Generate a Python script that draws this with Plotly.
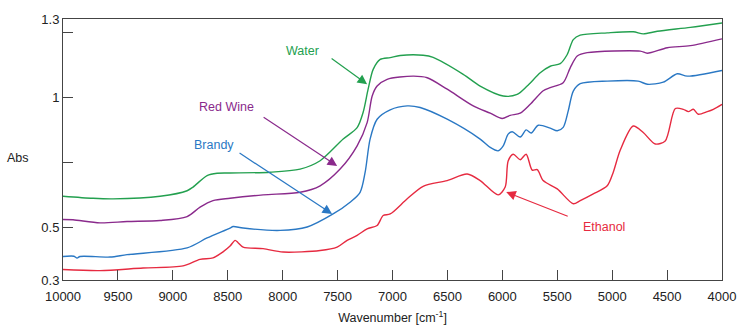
import plotly.graph_objects as go

# ---- data (wavenumber in cm^-1, absorbance) ----
water_wn = [10000, 9727, 9545, 9116, 8870, 8816, 8688, 8597, 8479, 8114, 7841, 7659, 7449, 7322, 7267, 7222,
            7176, 7112, 7021, 6930, 6721, 6630, 6356, 6202, 5992, 5865, 5774, 5655, 5564, 5473, 5409, 5354,
            5291, 5045, 4808, 4717, 4589, 4288, 4000]
water_abs = [0.621, 0.613, 0.611, 0.621, 0.642, 0.656, 0.700, 0.709, 0.710, 0.713, 0.725, 0.757, 0.840, 0.884,
             0.943, 1.031, 1.107, 1.145, 1.152, 1.160, 1.161, 1.153, 1.088, 1.043, 1.005, 1.011, 1.043, 1.094,
             1.119, 1.129, 1.164, 1.221, 1.238, 1.247, 1.251, 1.243, 1.253, 1.268, 1.285]

wine_wn = [10000, 9909, 9663, 9417, 9116, 8870, 8752, 8634, 8479, 8178, 7841, 7659, 7477, 7322, 7231, 7185,
           7140, 7049, 6812, 6684, 6502, 6265, 6110, 6001, 5928, 5837, 5746, 5628, 5564, 5446, 5382, 5318,
           5227, 4744, 4680, 4498, 4288, 4000]
wine_abs = [0.532, 0.531, 0.519, 0.524, 0.528, 0.543, 0.579, 0.604, 0.613, 0.626, 0.636, 0.661, 0.725, 0.814,
            0.903, 1.005, 1.043, 1.069, 1.081, 1.075, 1.031, 0.967, 0.939, 0.919, 0.931, 0.939, 0.973, 1.025,
            1.037, 1.056, 1.113, 1.158, 1.171, 1.177, 1.169, 1.190, 1.198, 1.224]

brandy_wn = [10000, 9900, 9872, 9845, 9572, 9417, 8870, 8688, 8479, 8451, 8360, 8023, 7777, 7541, 7386, 7295,
             7249, 7204, 7140, 7021, 6866, 6748, 6502, 6202, 6110, 6038, 5992, 5947, 5910, 5837, 5783, 5737,
             5673, 5564, 5500, 5446, 5400, 5354, 5291, 5045, 4763, 4680, 4535, 4407, 4316, 4000]
brandy_abs = [0.390, 0.391, 0.384, 0.390, 0.388, 0.397, 0.423, 0.461, 0.499, 0.505, 0.499, 0.490, 0.503, 0.553,
              0.598, 0.636, 0.713, 0.840, 0.916, 0.952, 0.967, 0.961, 0.916, 0.840, 0.808, 0.795, 0.814, 0.859,
              0.868, 0.848, 0.875, 0.863, 0.893, 0.882, 0.872, 0.885, 0.948, 1.024, 1.052, 1.062, 1.062, 1.050,
              1.058, 1.090, 1.081, 1.103]

ethanol_wn = [10000, 9663, 9271, 8907, 8752, 8634, 8543, 8479, 8433, 8406, 8360, 8178, 7996, 7659, 7504, 7413,
              7322, 7231, 7140, 7085, 7021, 6866, 6721, 6502, 6320, 6202, 6038, 5974, 5947, 5901, 5837, 5783,
              5728, 5682, 5628, 5500, 5354, 5291, 5172, 5045, 4990, 4926, 4808, 4717, 4608, 4517, 4425, 4352,
              4306, 4261, 4216, 4134, 4079, 4000]
ethanol_abs = [0.340, 0.336, 0.346, 0.354, 0.379, 0.385, 0.408, 0.430, 0.452, 0.443, 0.426, 0.420, 0.407, 0.413,
               0.426, 0.452, 0.471, 0.496, 0.509, 0.547, 0.553, 0.611, 0.659, 0.681, 0.706, 0.681, 0.626, 0.656,
               0.756, 0.782, 0.761, 0.782, 0.721, 0.723, 0.681, 0.649, 0.592, 0.604, 0.630, 0.661, 0.713, 0.798,
               0.890, 0.865, 0.821, 0.833, 0.957, 0.954, 0.945, 0.954, 0.935, 0.945, 0.954, 0.973]

x_tickvals = [10000, 9500, 9000, 8500, 8000, 7500, 7000, 6500, 6000, 5500, 5000, 4500, 4000]
y_tickvals = [0.3, 0.5, 0.75, 1, 1.25, 1.3]
y_ticktext = ["0.3", "0.5", "", "1", "", "1.3"]

# label name, text position (wn, abs), arrow tail (wn, abs), arrow head (wn, abs), colour
labels = [
    ("Water", (7823, 1.179), (7568, 1.153), (7231, 1.050), "#23a04f"),
    ("Red Wine", (8515, 0.962), (8187, 0.927), (7504, 0.737), "#8a2a8c"),
    ("Brandy", (8625, 0.817), (8406, 0.790), (7550, 0.553), "#2a78c4"),
    ("Ethanol", (5072, 0.504), (5391, 0.542), (5965, 0.637), "#e62a40"),
]

series = [
    (water_wn, water_abs, "#23a04f"),
    (wine_wn, wine_abs, "#8a2a8c"),
    (brandy_wn, brandy_abs, "#2a78c4"),
    (ethanol_wn, ethanol_abs, "#e62a40"),
]

fig = go.Figure()
for xs, ys, col in series:
    fig.add_trace(go.Scatter(x=xs, y=ys, mode="lines",
                             line=dict(color=col, width=1.4, shape="spline", smoothing=0.8),
                             showlegend=False, hoverinfo="skip"))

for name, tpos, tail, head, col in labels:
    fig.add_annotation(x=tpos[0], y=tpos[1], text=name, showarrow=False,
                       font=dict(color=col, size=12.5, family="Liberation Sans, Arial"))
    fig.add_annotation(x=head[0], y=head[1], ax=tail[0], ay=tail[1], axref="x", ayref="y",
                       text="", showarrow=True, arrowhead=2, arrowsize=1.6, arrowwidth=1.2,
                       arrowcolor=col)

fig.add_annotation(xref="paper", yref="paper", x=-0.088, y=0.466, xanchor="left", yanchor="middle",
                   text="Abs", showarrow=False, font=dict(size=12.5, color="#222"))

axis_common = dict(showline=True, linecolor="#444", linewidth=1, mirror=True, ticks="inside",
                   ticklen=10, tickcolor="#444", tickwidth=1, showgrid=False, zeroline=False,
                   tickfont=dict(size=13, color="#222"))

fig.update_xaxes(range=[10000, 4000], tickvals=x_tickvals, ticktext=[str(v) for v in x_tickvals],
                 ticklabelstandoff=4,
                 title=dict(text="Wavenumber [cm<sup>-1</sup>]", font=dict(size=12.5, color="#222"), standoff=10),
                 **axis_common)
fig.update_yaxes(range=[0.3, 1.3], tickvals=y_tickvals, ticktext=y_ticktext, **axis_common)

fig.update_layout(width=750, height=334, margin=dict(l=63, r=28, t=17, b=53),
                  plot_bgcolor="white", paper_bgcolor="white",
                  font=dict(family="Liberation Sans, Arial", color="#222"))

fig.write_html("out.html")
